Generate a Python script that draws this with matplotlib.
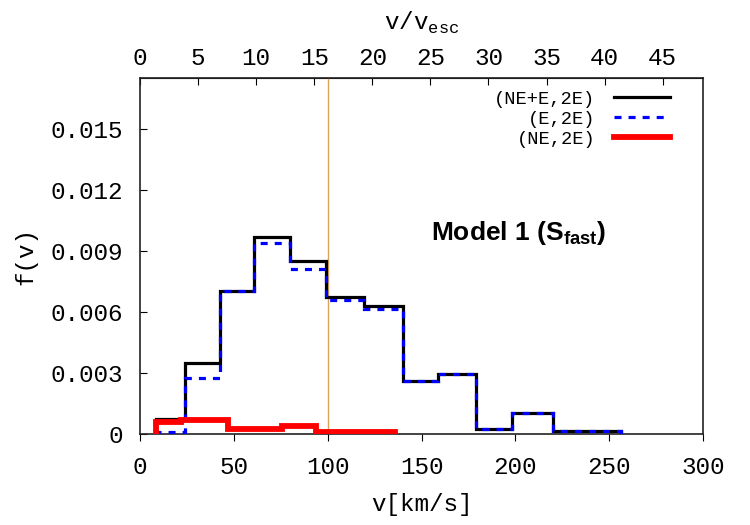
import matplotlib as mpl
import matplotlib.pyplot as plt
import numpy as np

mpl.rcParams['font.family'] = 'Liberation Mono'
mpl.rcParams['font.size'] = 17.5
mpl.rcParams['mathtext.fontset'] = 'custom'
mpl.rcParams['mathtext.rm'] = 'Liberation Mono'
mpl.rcParams['mathtext.tt'] = 'Liberation Mono'
mpl.rcParams['mathtext.bf'] = 'Liberation Sans:bold'

# histogram data
edges_all = [8.4, 24, 42.5, 61, 80, 99, 119.5, 140, 159, 179, 198, 220, 256.5]
f_ne_e = [0.00072, 0.0035, 0.00704, 0.0097, 0.00853, 0.00673, 0.00629,
          0.00261, 0.00293, 0.00024, 0.00104, 0.00013]
f_e = [0.00011, 0.00276, 0.00704, 0.0094, 0.00809, 0.00657, 0.00616,
       0.00261, 0.00293, 0.00024, 0.00104, 0.00013]
edges_ne = [8.4, 22, 47, 75.6, 94, 136]
f_ne = [0.00057, 0.00067, 0.00025, 0.00039, 0.00011]

v_esc = 6.19  # km/s, from the top axis scale
v_line = 100

fig = plt.figure(figsize=(7.5, 5.25), dpi=100)
ax = fig.add_axes([0.1867, 0.1733, 0.7506, 0.678])

ax.axvline(v_line, color='#d9a35a', lw=1.0, zorder=1)
ax.stairs(f_ne_e, edges_all, color='black', lw=2.3, label='(NE+E,2E)', zorder=3)
ax.stairs(f_e, edges_all, color='#0000ff', lw=2.3, ls=(0, (2.2, 2.2)), label='(E,2E)', zorder=4)
ax.stairs(f_ne, edges_ne, color='#ff0000', lw=4.2, label='(NE,2E)', zorder=5)

ax.set_xlim(0, 300)
ax.set_ylim(0, 0.0175)
ax.set_xticks(np.arange(0, 301, 50))
ax.set_yticks([0, 0.003, 0.006, 0.009, 0.012, 0.015])
ax.set_yticklabels(['0', '0.003', '0.006', '0.009', '0.012', '0.015'])
ax.tick_params(axis='x', direction='out', length=5, pad=11)
ax.tick_params(axis='y', direction='in', length=5, pad=12)
ax.set_xlabel('v[km/s]', labelpad=10)
ax.set_ylabel('f(v)', labelpad=10)

for s in ax.spines.values():
    s.set_linewidth(1.2)
    s.set_color('#222222')

sec = ax.secondary_xaxis('top', functions=(lambda v: v / v_esc, lambda r: r * v_esc))
sec.set_xticks(np.arange(0, 46, 5))
sec.tick_params(direction='in', length=5, pad=6)
sec.set_xlabel(r'v/v$_{\mathtt{esc}}$', labelpad=12)

leg = ax.legend(loc='upper right', bbox_to_anchor=(0.972, 1.012), frameon=False,
                markerfirst=False, fontsize=13.5, handlelength=3.0,
                labelspacing=0.15, borderaxespad=0.5, handletextpad=1.0)

ax.text(0.672, 0.565, r'Model 1 (S$_{\mathbf{fast}}$)', transform=ax.transAxes,
        family='Liberation Sans', fontweight='bold', fontsize=19,
        ha='center', va='center')

fig.savefig('out.png', dpi=100)
